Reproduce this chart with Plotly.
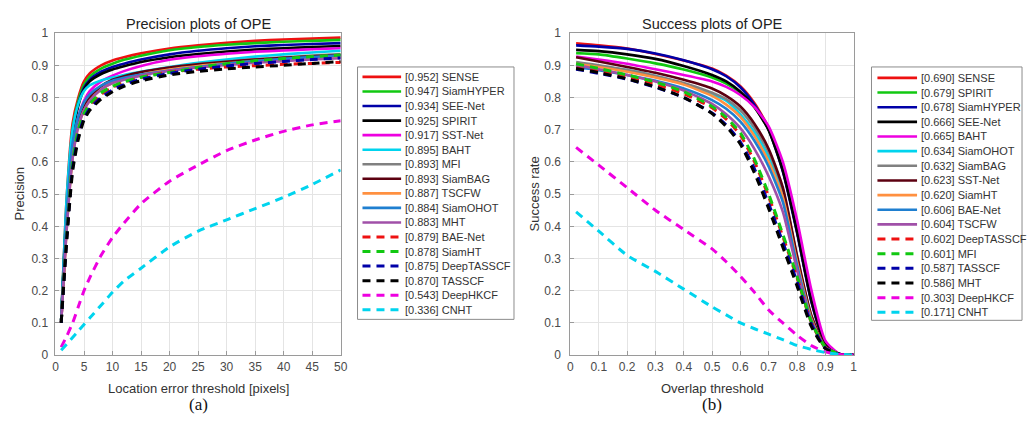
import plotly.graph_objects as go

W, H = 1031, 425

# ---------------- Precision plot data (left) ----------------
prec_x = [1, 2, 3, 4, 5, 6, 8, 10, 12, 15, 20, 25, 30, 35, 40, 45, 50]

p_SENSE      = [0.11, 0.50, 0.72, 0.80, 0.85, 0.875, 0.90, 0.915, 0.925, 0.937, 0.952, 0.962, 0.970, 0.976, 0.980, 0.983, 0.986]
p_SiamHYPER  = [0.11, 0.48, 0.70, 0.79, 0.84, 0.865, 0.89, 0.905, 0.917, 0.930, 0.947, 0.957, 0.964, 0.969, 0.973, 0.976, 0.979]
p_SEENet     = [0.11, 0.47, 0.69, 0.78, 0.83, 0.855, 0.88, 0.895, 0.905, 0.918, 0.934, 0.945, 0.953, 0.959, 0.963, 0.966, 0.969]
p_SPIRIT     = [0.11, 0.46, 0.68, 0.775, 0.825, 0.85, 0.873, 0.887, 0.897, 0.910, 0.925, 0.935, 0.943, 0.949, 0.953, 0.957, 0.960]
p_SSTNet     = [0.10, 0.42, 0.64, 0.74, 0.79, 0.82, 0.85, 0.868, 0.882, 0.898, 0.917, 0.928, 0.936, 0.942, 0.946, 0.950, 0.953]
p_BAHT       = [0.11, 0.50, 0.70, 0.78, 0.82, 0.838, 0.853, 0.862, 0.870, 0.880, 0.895, 0.908, 0.918, 0.927, 0.934, 0.940, 0.945]
p_MFI        = [0.10, 0.42, 0.63, 0.72, 0.77, 0.80, 0.835, 0.853, 0.864, 0.877, 0.893, 0.904, 0.912, 0.919, 0.925, 0.930, 0.935]
p_SiamBAG    = [0.10, 0.41, 0.62, 0.72, 0.77, 0.80, 0.835, 0.855, 0.866, 0.879, 0.893, 0.903, 0.911, 0.918, 0.923, 0.928, 0.932]
p_TSCFW      = [0.10, 0.40, 0.61, 0.71, 0.76, 0.79, 0.825, 0.845, 0.857, 0.871, 0.887, 0.898, 0.906, 0.913, 0.918, 0.922, 0.926]
p_SiamOHOT   = [0.11, 0.45, 0.66, 0.74, 0.785, 0.81, 0.837, 0.852, 0.861, 0.871, 0.884, 0.895, 0.905, 0.913, 0.920, 0.926, 0.931]
p_MHT        = [0.10, 0.40, 0.61, 0.71, 0.76, 0.79, 0.825, 0.845, 0.855, 0.868, 0.883, 0.893, 0.901, 0.908, 0.913, 0.918, 0.922]
p_BAENet     = [0.10, 0.38, 0.59, 0.69, 0.745, 0.775, 0.81, 0.832, 0.847, 0.862, 0.879, 0.888, 0.895, 0.899, 0.903, 0.906, 0.909]
p_SiamHT     = [0.10, 0.39, 0.60, 0.70, 0.75, 0.78, 0.815, 0.835, 0.849, 0.863, 0.878, 0.893, 0.905, 0.914, 0.921, 0.927, 0.932]
p_DeepTASSCF = [0.10, 0.37, 0.58, 0.68, 0.735, 0.765, 0.80, 0.823, 0.840, 0.857, 0.875, 0.888, 0.898, 0.906, 0.912, 0.918, 0.923]
p_TASSCF     = [0.10, 0.36, 0.57, 0.67, 0.73, 0.76, 0.795, 0.818, 0.835, 0.852, 0.870, 0.881, 0.889, 0.895, 0.900, 0.906, 0.912]
p_DeepHKCF   = [0.025, 0.06, 0.10, 0.15, 0.20, 0.24, 0.31, 0.365, 0.41, 0.47, 0.54, 0.59, 0.635, 0.668, 0.695, 0.715, 0.728]
p_CNHT       = [0.015, 0.035, 0.055, 0.075, 0.095, 0.115, 0.155, 0.195, 0.23, 0.27, 0.336, 0.385, 0.42, 0.455, 0.49, 0.53, 0.575]

prec_names  = ["SENSE", "SiamHYPER", "SEE-Net", "SPIRIT", "SST-Net", "BAHT", "MFI", "SiamBAG",
               "TSCFW", "SiamOHOT", "MHT", "BAE-Net", "SiamHT", "DeepTASSCF", "TASSCF", "DeepHKCF", "CNHT"]
prec_scores = ["0.952", "0.947", "0.934", "0.925", "0.917", "0.895", "0.893", "0.893",
               "0.887", "0.884", "0.883", "0.879", "0.878", "0.875", "0.870", "0.543", "0.336"]
prec_values = [p_SENSE, p_SiamHYPER, p_SEENet, p_SPIRIT, p_SSTNet, p_BAHT, p_MFI, p_SiamBAG,
               p_TSCFW, p_SiamOHOT, p_MHT, p_BAENet, p_SiamHT, p_DeepTASSCF, p_TASSCF, p_DeepHKCF, p_CNHT]

# ---------------- Success plot data (right) ----------------
succ_x = [0.02, 0.1, 0.2, 0.3, 0.4, 0.5, 0.55, 0.6, 0.65, 0.7, 0.75, 0.8, 0.85, 0.9, 0.95, 1.0]

s_SENSE      = [0.968, 0.962, 0.952, 0.935, 0.915, 0.890, 0.868, 0.835, 0.782, 0.705, 0.575, 0.385, 0.170, 0.035, 0.003, 0.0]
s_SPIRIT     = [0.938, 0.934, 0.921, 0.906, 0.887, 0.862, 0.843, 0.815, 0.770, 0.700, 0.578, 0.392, 0.178, 0.038, 0.003, 0.0]
s_SiamHYPER  = [0.962, 0.958, 0.951, 0.937, 0.916, 0.888, 0.866, 0.832, 0.777, 0.700, 0.570, 0.380, 0.168, 0.035, 0.003, 0.0]
s_SEENet     = [0.948, 0.944, 0.934, 0.920, 0.898, 0.870, 0.850, 0.818, 0.770, 0.698, 0.572, 0.385, 0.172, 0.036, 0.003, 0.0]
s_BAHT       = [0.927, 0.918, 0.905, 0.888, 0.870, 0.850, 0.833, 0.808, 0.770, 0.710, 0.600, 0.420, 0.205, 0.045, 0.004, 0.0]
s_SiamOHOT   = [0.905, 0.897, 0.885, 0.867, 0.843, 0.810, 0.790, 0.748, 0.692, 0.615, 0.505, 0.300, 0.120, 0.025, 0.003, 0.0]
s_SiamBAG    = [0.910, 0.900, 0.885, 0.867, 0.845, 0.815, 0.795, 0.760, 0.705, 0.630, 0.515, 0.305, 0.122, 0.026, 0.003, 0.0]
s_SSTNet     = [0.925, 0.912, 0.895, 0.877, 0.855, 0.828, 0.805, 0.772, 0.718, 0.640, 0.520, 0.310, 0.125, 0.027, 0.003, 0.0]
s_SiamHT     = [0.905, 0.895, 0.880, 0.862, 0.840, 0.805, 0.778, 0.740, 0.680, 0.600, 0.490, 0.290, 0.115, 0.024, 0.003, 0.0]
s_BAENet     = [0.895, 0.885, 0.870, 0.852, 0.828, 0.792, 0.765, 0.725, 0.665, 0.585, 0.475, 0.280, 0.110, 0.023, 0.003, 0.0]
s_TSCFW      = [0.900, 0.888, 0.870, 0.850, 0.822, 0.780, 0.748, 0.705, 0.640, 0.555, 0.445, 0.265, 0.105, 0.022, 0.003, 0.0]
s_DeepTASSCF = [0.892, 0.880, 0.862, 0.840, 0.812, 0.768, 0.733, 0.683, 0.600, 0.492, 0.368, 0.240, 0.103, 0.024, 0.003, 0.0]
s_MFI        = [0.905, 0.890, 0.870, 0.848, 0.818, 0.772, 0.738, 0.690, 0.608, 0.500, 0.375, 0.245, 0.105, 0.025, 0.003, 0.0]
s_TASSCF     = [0.888, 0.875, 0.857, 0.832, 0.800, 0.752, 0.715, 0.662, 0.578, 0.470, 0.350, 0.228, 0.098, 0.022, 0.003, 0.0]
s_MHT        = [0.890, 0.877, 0.858, 0.833, 0.800, 0.750, 0.710, 0.655, 0.565, 0.455, 0.335, 0.215, 0.090, 0.020, 0.003, 0.0]
s_DeepHKCF   = [0.645, 0.590, 0.520, 0.450, 0.390, 0.330, 0.290, 0.245, 0.195, 0.140, 0.100, 0.062, 0.030, 0.010, 0.002, 0.0]
s_CNHT       = [0.445, 0.385, 0.310, 0.260, 0.205, 0.150, 0.125, 0.100, 0.082, 0.065, 0.048, 0.030, 0.018, 0.008, 0.003, 0.0]

succ_names  = ["SENSE", "SPIRIT", "SiamHYPER", "SEE-Net", "BAHT", "SiamOHOT", "SiamBAG", "SST-Net",
               "SiamHT", "BAE-Net", "TSCFW", "DeepTASSCF", "MFI", "TASSCF", "MHT", "DeepHKCF", "CNHT"]
succ_scores = ["0.690", "0.679", "0.678", "0.666", "0.665", "0.634", "0.632", "0.623",
               "0.620", "0.606", "0.604", "0.602", "0.601", "0.587", "0.586", "0.303", "0.171"]
succ_values = [s_SENSE, s_SPIRIT, s_SiamHYPER, s_SEENet, s_BAHT, s_SiamOHOT, s_SiamBAG, s_SSTNet,
               s_SiamHT, s_BAENet, s_TSCFW, s_DeepTASSCF, s_MFI, s_TASSCF, s_MHT, s_DeepHKCF, s_CNHT]

y_ticks = [0, 0.1, 0.2, 0.3, 0.4, 0.5, 0.6, 0.7, 0.8, 0.9, 1]
y_ticktext = ["0", "0.1", "0.2", "0.3", "0.4", "0.5", "0.6", "0.7", "0.8", "0.9", "1"]
prec_xticks = [0, 5, 10, 15, 20, 25, 30, 35, 40, 45, 50]
succ_xticks = [0, 0.1, 0.2, 0.3, 0.4, 0.5, 0.6, 0.7, 0.8, 0.9, 1]
succ_xticktext = ["0", "0.1", "0.2", "0.3", "0.4", "0.5", "0.6", "0.7", "0.8", "0.9", "1"]

# ---------------- styles (by rank in legend) ----------------
RED, GREEN, DBLUE, BLACK = "#ee1111", "#11c811", "#0000a8", "#000000"
MAG, CYAN, GRAY, MAROON = "#ee00e0", "#00d4ee", "#808080", "#5c0010"
ORANGE, BLUE2, PURPLE = "#ff9040", "#1f7fd0", "#a050a8"
style_colors = [RED, GREEN, DBLUE, BLACK, MAG, CYAN, GRAY, MAROON, ORANGE, BLUE2, PURPLE,
                RED, GREEN, DBLUE, BLACK, MAG, CYAN]
style_dash = ["solid"] * 11 + ["dash"] * 6

FONT = "Liberation Sans, Arial, sans-serif"
DASH = "8px,6px"

fig = go.Figure()

def add_panel(xs, names, values, xa, ya):
    for i, (nm, vals) in enumerate(zip(names, values)):
        dashed = style_dash[i] == "dash"
        fig.add_trace(go.Scatter(
            x=xs, y=vals, mode="lines", name=nm, showlegend=False,
            line=dict(color=style_colors[i], width=3 if dashed else 2.6,
                      dash=DASH if dashed else "solid", shape="spline", smoothing=0.6),
            xaxis=xa, yaxis=ya, hoverinfo="skip"))

add_panel(prec_x, prec_names, prec_values, "x", "y")
add_panel(succ_x, succ_names, succ_values, "x2", "y2")

top, bot = 27, 360
ydom = [1 - bot / H, 1 - top / H]
axis_common = dict(showgrid=True, gridcolor="#e4e4e4", gridwidth=1, zeroline=False,
                   showline=True, linecolor="#9a9a9a", linewidth=1, mirror=True,
                   ticks="inside", ticklen=4, tickcolor="#9a9a9a",
                   tickfont=dict(family=FONT, size=12, color="#4a4a4a"))

fig.update_layout(
    width=W, height=H, margin=dict(l=0, r=0, t=0, b=0),
    paper_bgcolor="white", plot_bgcolor="white",
    font=dict(family=FONT),
    xaxis=dict(domain=[53 / W, 341 / W], range=[0, 50], tickvals=prec_xticks, anchor="y", **axis_common),
    yaxis=dict(domain=ydom, range=[0, 1], tickvals=y_ticks, ticktext=y_ticktext, anchor="x",
               ticklabelstandoff=4, **axis_common),
    xaxis2=dict(domain=[573 / W, 859 / W], range=[0, 1], tickvals=succ_xticks, ticktext=succ_xticktext,
                anchor="y2", **axis_common),
    yaxis2=dict(domain=ydom, range=[0, 1], tickvals=y_ticks, ticktext=y_ticktext, anchor="x2",
                ticklabelstandoff=6, **axis_common),
)

ann = []
shapes = []

def px(x, y):
    return x / W, 1 - y / H

def text(x, y, s, size=13, family=FONT, color="#333", xanchor="center", angle=0):
    xx, yy = px(x, y)
    ann.append(dict(x=xx, y=yy, xref="paper", yref="paper", text=s, showarrow=False,
                    xanchor=xanchor, yanchor="middle", textangle=angle,
                    font=dict(family=family, size=size, color=color)))

# titles and labels
text(197, 18, "Precision plots of OPE", size=14.5, color="#222")
text(716, 18, "Success plots of OPE", size=14.5, color="#222")
text(197, 394, "Location error threshold [pixels]", size=13)
text(716, 394, "Overlap threshold", size=13)
text(197, 411, "(a)", size=17, family="Liberation Serif, Times New Roman, serif", color="#111")
text(716, 411, "(b)", size=17, family="Liberation Serif, Times New Roman, serif", color="#111")
text(17, 193, "Precision", size=13, angle=-90)
text(537, 193, "Success rate", size=13, angle=-90)

def legend(x0, x1, y0, y1, line_x0, line_x1, text_x, row0, step, names, scores):
    shapes.append(dict(type="rect", xref="paper", yref="paper",
                       x0=x0 / W, x1=x1 / W, y0=1 - y1 / H, y1=1 - y0 / H,
                       line=dict(color="#8c8c8c", width=1), fillcolor="white", layer="above"))
    for i, (nm, sc) in enumerate(zip(names, scores)):
        yy = row0 + i * step
        dashed = style_dash[i] == "dash"
        shapes.append(dict(type="line", xref="paper", yref="paper",
                           x0=line_x0 / W, x1=(line_x1 if not dashed else line_x1 - 2) / W,
                           y0=1 - yy / H, y1=1 - yy / H, layer="above",
                           line=dict(color=style_colors[i], width=3 if dashed else 2.6,
                                     dash=DASH if dashed else "solid")))
        text(text_x, yy, "[" + sc + "] " + nm, size=11, color="#333", xanchor="left")

legend(358, 516, 62, 323, 363, 402, 404, 72.3, 15.05, prec_names, prec_scores)
legend(877, 1029, 62, 324, 883, 923, 925, 73.3, 15.15, succ_names, succ_scores)

fig.update_layout(annotations=ann, shapes=shapes)
fig.write_html("out.html")
